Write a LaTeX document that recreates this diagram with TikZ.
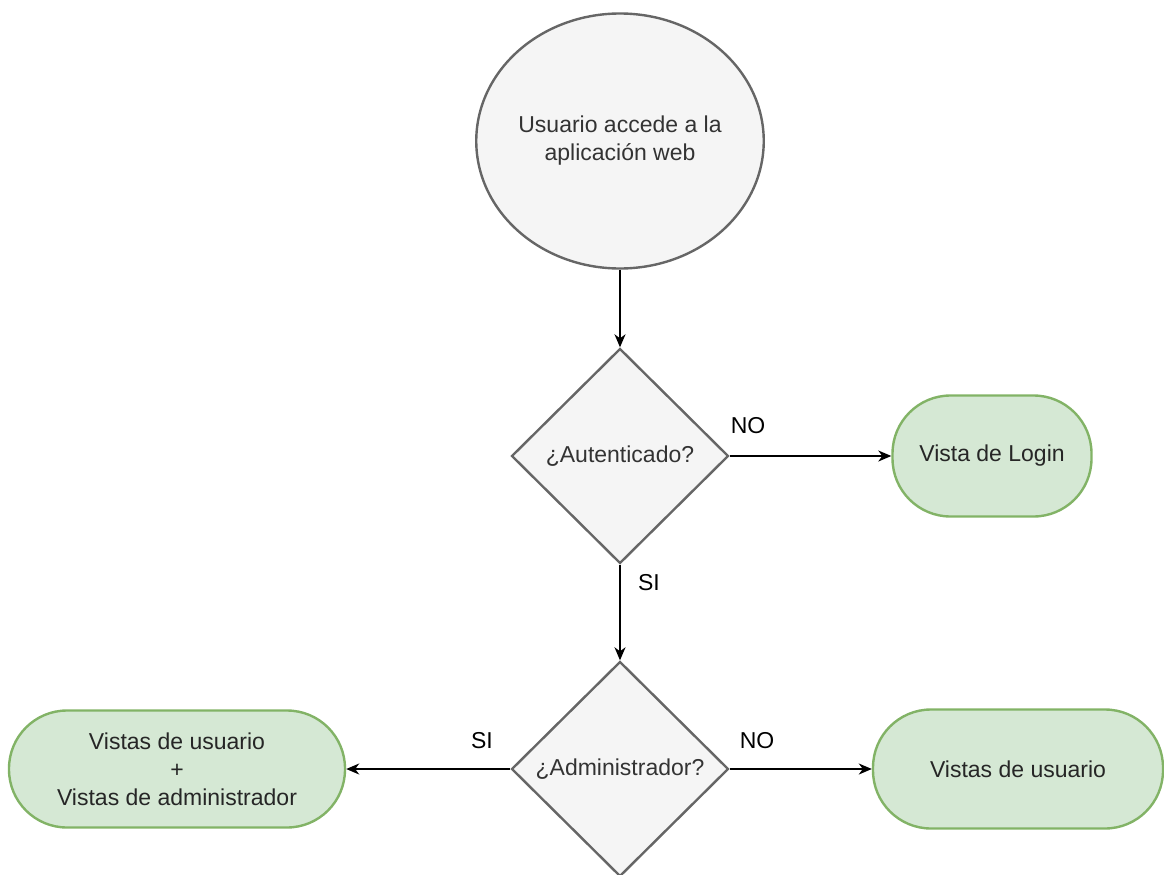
\documentclass[tikz,border=0pt]{standalone}
\usepackage{fontspec}
\setmainfont{Liberation Sans}
\usetikzlibrary{shapes.geometric,arrows.meta}
\definecolor{greyfill}{HTML}{F5F5F5}
\definecolor{greyline}{HTML}{666666}
\definecolor{greenfill}{HTML}{D5E8D4}
\definecolor{greenline}{HTML}{82B366}
\definecolor{greytext}{HTML}{333333}
\begin{document}
\begin{tikzpicture}[x=1pt,y=-1pt,
  every node/.style={font=\fontsize{23}{28}\selectfont},
  startnode/.style={ellipse,draw=greyline,fill=greyfill,line width=2.4pt,
    text=greytext,align=center,minimum width=277pt,minimum height=255pt,inner sep=0pt},
  decision/.style={diamond,draw=greyline,fill=greyfill,line width=2.4pt,
    text=greytext,align=center,minimum width=217pt,minimum height=215pt,inner sep=0pt},
  terminal/.style={rectangle,rounded corners=58pt,draw=greenline,fill=greenfill,
    line width=2.4pt,text=black!85,align=center,inner sep=0pt},
  flow/.style={line width=1.6pt,-{Stealth[length=13pt,width=11pt,inset=4pt]}},
  edgelabel/.style={text=black,inner sep=0pt}]
\useasboundingbox (0,0) rectangle (1164,875);

\node[startnode] (start) at (620,141) {Usuario accede a la\\aplicación web};
\node[decision] (auth) at (620,456) {¿Autenticado?};
\node[decision] (admin) at (620,769) {¿Administrador?};
\node[terminal,minimum width=199pt,minimum height=121pt] (login) at (992,456) {Vista de Login};
\node[terminal,minimum width=336pt,minimum height=117pt] (both) at (177,769)
  {Vistas de usuario\\+\\Vistas de administrador};
\node[terminal,minimum width=290pt,minimum height=119pt] (user) at (1018,769) {Vistas de usuario};

\draw[flow] (start.south) -- (auth.north);
\draw[flow] (auth.east) -- (login.west);
\draw[flow] (auth.south) -- (admin.north);
\draw[flow] (admin.west) -- (both.east);
\draw[flow] (admin.east) -- (user.west);

\node[edgelabel] (lno1) at (748,426) {NO};
\node[edgelabel] (lsi1) at (649,583) {SI};
\node[edgelabel] (lsi2) at (482,741) {SI};
\node[edgelabel] (lno2) at (757,741) {NO};
\end{tikzpicture}
\end{document}
